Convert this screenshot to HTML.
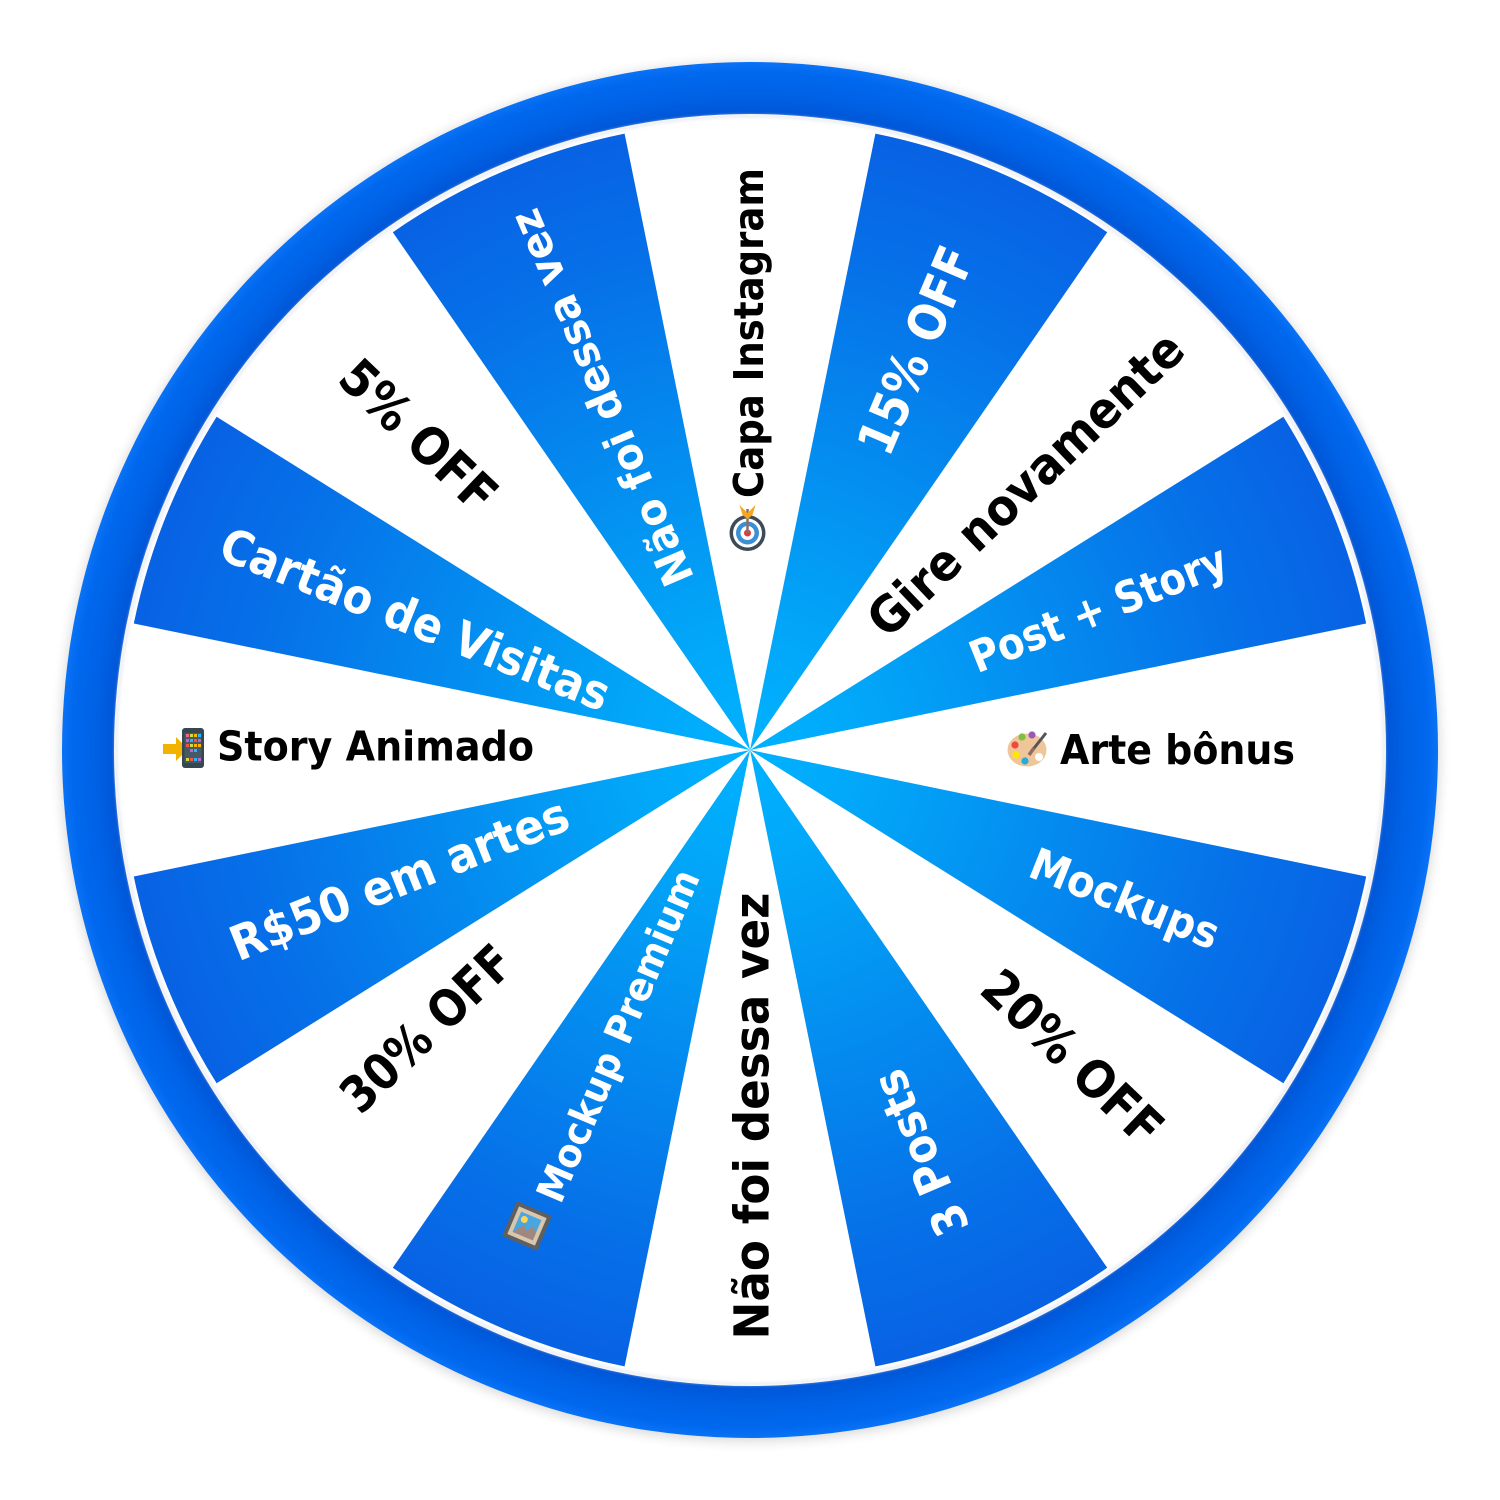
<!DOCTYPE html>
<html>
<head>
<meta charset="utf-8">
<style>
html,body{margin:0;padding:0;background:#fff;}
svg{display:block}
.t{font-family:"DejaVu Sans","Liberation Sans",sans-serif;font-weight:700;}
</style>
</head>
<body>
<svg width="1500" height="1500" viewBox="0 0 1500 1500" xmlns="http://www.w3.org/2000/svg">
<defs>
  <radialGradient id="seg" gradientUnits="userSpaceOnUse" cx="750" cy="750" r="629">
    <stop offset="0" stop-color="#00b2ff"/>
    <stop offset="0.2" stop-color="#02a6f8"/>
    <stop offset="0.5" stop-color="#048bef"/>
    <stop offset="0.8" stop-color="#0670e8"/>
    <stop offset="1" stop-color="#0862e4"/>
  </radialGradient>
  <radialGradient id="ring" gradientUnits="userSpaceOnUse" cx="750" cy="750" r="688">
    <stop offset="0.92" stop-color="#0052d4"/>
    <stop offset="0.935" stop-color="#005adc"/>
    <stop offset="0.955" stop-color="#0062e6"/>
    <stop offset="0.985" stop-color="#0068ee"/>
    <stop offset="1" stop-color="#0a72f6"/>
  </radialGradient>
  <filter id="sh" x="-10%" y="-10%" width="120%" height="120%">
    <feGaussianBlur stdDeviation="6"/>
  </filter>
  <filter id="sh2" x="-10%" y="-10%" width="120%" height="120%">
    <feGaussianBlur stdDeviation="1.5"/>
  </filter>
</defs>

<!-- outer shadow -->
<circle cx="750" cy="752" r="689" fill="#000" opacity="0.16" filter="url(#sh)"/>
<!-- ring -->
<circle cx="750" cy="750" r="688" fill="url(#ring)"/>
<circle cx="750" cy="750" r="636" fill="#fff"/>
<circle cx="750" cy="750" r="634" fill="none" stroke="#dfe3ea" stroke-width="2" filter="url(#sh2)"/>

<!-- blue segments -->
<g fill="url(#seg)">
  <path d="M750,750 L875.4,133.6 A629,629 0 0 1 1107.2,232.2 Z"/>
  <path d="M750,750 L1283.4,416.7 A629,629 0 0 1 1366.2,623.5 Z"/>
  <path d="M750,750 L1366.2,876.5 A629,629 0 0 1 1283.4,1083.3 Z"/>
  <path d="M750,750 L1107.2,1267.8 A629,629 0 0 1 875.4,1366.4 Z"/>
  <path d="M750,750 L624.6,1366.4 A629,629 0 0 1 392.8,1267.8 Z"/>
  <path d="M750,750 L216.6,1083.3 A629,629 0 0 1 133.8,876.5 Z"/>
  <path d="M750,750 L133.8,623.5 A629,629 0 0 1 216.6,416.7 Z"/>
  <path d="M750,750 L392.8,232.2 A629,629 0 0 1 624.6,133.6 Z"/>
</g>

<!-- labels -->
<g class="t" text-anchor="middle">
  <text transform="translate(748,333) rotate(-90)" y="15" font-size="41" fill="#000" textLength="330" lengthAdjust="spacingAndGlyphs">Capa Instagram</text>
  <text transform="translate(915,350) rotate(-66.95)" y="18.6" font-size="51" fill="#fff" textLength="220" lengthAdjust="spacingAndGlyphs">15% OFF</text>
  <text transform="translate(1025,483.5) rotate(-43.7)" y="18.2" font-size="50" fill="#000" textLength="415" lengthAdjust="spacingAndGlyphs">Gire novamente</text>
  <text transform="translate(1098,608) rotate(-21.8)" y="16" font-size="44" fill="#fff" textLength="273" lengthAdjust="spacingAndGlyphs">Post + Story</text>
  <text transform="translate(1177.5,749)" y="15" font-size="41" fill="#000" textLength="235" lengthAdjust="spacingAndGlyphs">Arte bônus</text>
  <text transform="translate(1125,898) rotate(21.8)" y="16" font-size="44" fill="#fff" textLength="200" lengthAdjust="spacingAndGlyphs">Mockups</text>
  <text transform="translate(1073,1057) rotate(43.7)" y="18.6" font-size="51" fill="#000" textLength="228" lengthAdjust="spacingAndGlyphs">20% OFF</text>
  <text transform="translate(920,1153) rotate(-113.05)" y="17" font-size="47" fill="#fff" textLength="175" lengthAdjust="spacingAndGlyphs">3 Posts</text>
  <text transform="translate(751,1116) rotate(-90)" y="17.5" font-size="48" fill="#000" textLength="447" lengthAdjust="spacingAndGlyphs">Não foi dessa vez</text>
  <text transform="translate(617.5,1035.5) rotate(-66.95)" y="14.2" font-size="39" fill="#fff" textLength="357" lengthAdjust="spacingAndGlyphs">Mockup Premium</text>
  <text transform="translate(426,1028) rotate(-43.7)" y="18.2" font-size="50" fill="#000" textLength="216" lengthAdjust="spacingAndGlyphs">30% OFF</text>
  <text transform="translate(399,878.5) rotate(-21.8)" y="17.5" font-size="48" fill="#fff" textLength="360" lengthAdjust="spacingAndGlyphs">R$50 em artes</text>
  <text transform="translate(375.5,745.5)" y="15" font-size="41" fill="#000" textLength="317" lengthAdjust="spacingAndGlyphs">Story Animado</text>
  <text transform="translate(415.5,618.5) rotate(21.8)" y="17.5" font-size="48" fill="#fff" textLength="415" lengthAdjust="spacingAndGlyphs">Cartão de Visitas</text>
  <text transform="translate(419,435) rotate(43.7)" y="18.6" font-size="51" fill="#000" textLength="195" lengthAdjust="spacingAndGlyphs">5% OFF</text>
  <text transform="translate(601,398) rotate(-113.05)" y="15.7" font-size="43" fill="#fff" textLength="404" lengthAdjust="spacingAndGlyphs">Não foi dessa vez</text>
</g>

<!-- emoji: target -->
<g transform="translate(747.5,533)">
  <circle r="18" fill="#3e4a55"/>
  <circle r="14.5" fill="#fff"/>
  <circle r="11.5" fill="#3b8fd4"/>
  <circle r="7" fill="#fff"/>
  <circle r="3.5" fill="#e53935"/>
  <line x1="0" y1="0" x2="0" y2="-24" stroke="#8d6e63" stroke-width="2.5"/>
  <polygon points="-8,-28 0,-20 8,-28 5,-18 0,-14 -5,-18" fill="#f5a623"/>
</g>

<!-- emoji: palette -->
<g>
  <ellipse cx="1027" cy="750" rx="19.5" ry="16.5" fill="#efc69a"/>
  <circle cx="1039" cy="757" r="4" fill="#fff"/>
  <circle cx="1015" cy="745" r="3.6" fill="#ef4b3c"/>
  <circle cx="1022" cy="737" r="3.6" fill="#7cc043"/>
  <circle cx="1032" cy="735" r="3.6" fill="#9b59b6"/>
  <circle cx="1016" cy="755" r="3.6" fill="#ffe600"/>
  <circle cx="1025" cy="761" r="3.6" fill="#29a9d8"/>
  <line x1="1046" y1="733" x2="1031" y2="752" stroke="#555" stroke-width="3"/>
  <line x1="1034" y1="748" x2="1029" y2="755" stroke="#8d6e63" stroke-width="3.5"/>
</g>

<!-- emoji: phone with arrow -->
<g>
  <polygon points="163,744 176,744 176,737 188,749 176,761 176,754 163,754" fill="#f2b300"/>
  <rect x="182" y="728" width="22" height="40" rx="3" fill="#37474f"/>
  <rect x="184.5" y="733" width="17" height="30" fill="#455a64"/>
  <g>
    <rect x="186" y="734" width="3" height="3" fill="#f06292"/><rect x="190" y="734" width="3" height="3" fill="#cddc39"/><rect x="194" y="734" width="3" height="3" fill="#ffb300"/><rect x="198" y="734" width="3" height="3" fill="#29b6f6"/>
    <rect x="186" y="739" width="3" height="3" fill="#ba68c8"/><rect x="190" y="739" width="3" height="3" fill="#29b6f6"/><rect x="194" y="739" width="3" height="3" fill="#ef5350"/><rect x="198" y="739" width="3" height="3" fill="#ba68c8"/>
    <rect x="186" y="744" width="3" height="3" fill="#ef5350"/><rect x="190" y="744" width="3" height="3" fill="#cddc39"/><rect x="194" y="744" width="3" height="3" fill="#ffb300"/><rect x="198" y="744" width="3" height="3" fill="#ffb300"/>
    <rect x="190" y="749" width="3" height="3" fill="#ba68c8"/><rect x="194" y="749" width="3" height="3" fill="#29b6f6"/>
    <rect x="186" y="758" width="3" height="3" fill="#cddc39"/><rect x="190" y="758" width="3" height="3" fill="#ef5350"/><rect x="194" y="758" width="3" height="3" fill="#29b6f6"/><rect x="198" y="758" width="3" height="3" fill="#ba68c8"/>
  </g>
</g>

<!-- emoji: framed picture -->
<g transform="translate(527,1226) rotate(-66.95)">
  <g transform="rotate(90)">
    <rect x="-19" y="-19" width="38" height="38" fill="#5f5f5f"/>
    <rect x="-15" y="-15" width="30" height="30" fill="#d9c7ad"/>
    <rect x="-11" y="-11" width="22" height="22" fill="#4aa6e0"/>
    <circle cx="-5" cy="-5" r="3.5" fill="#ffd54f"/>
    <polygon points="-11,11 -3,0 2,5 6,-3 11,4 11,11" fill="#a1887f"/>
  </g>
</g>
</svg>
</body>
</html>
